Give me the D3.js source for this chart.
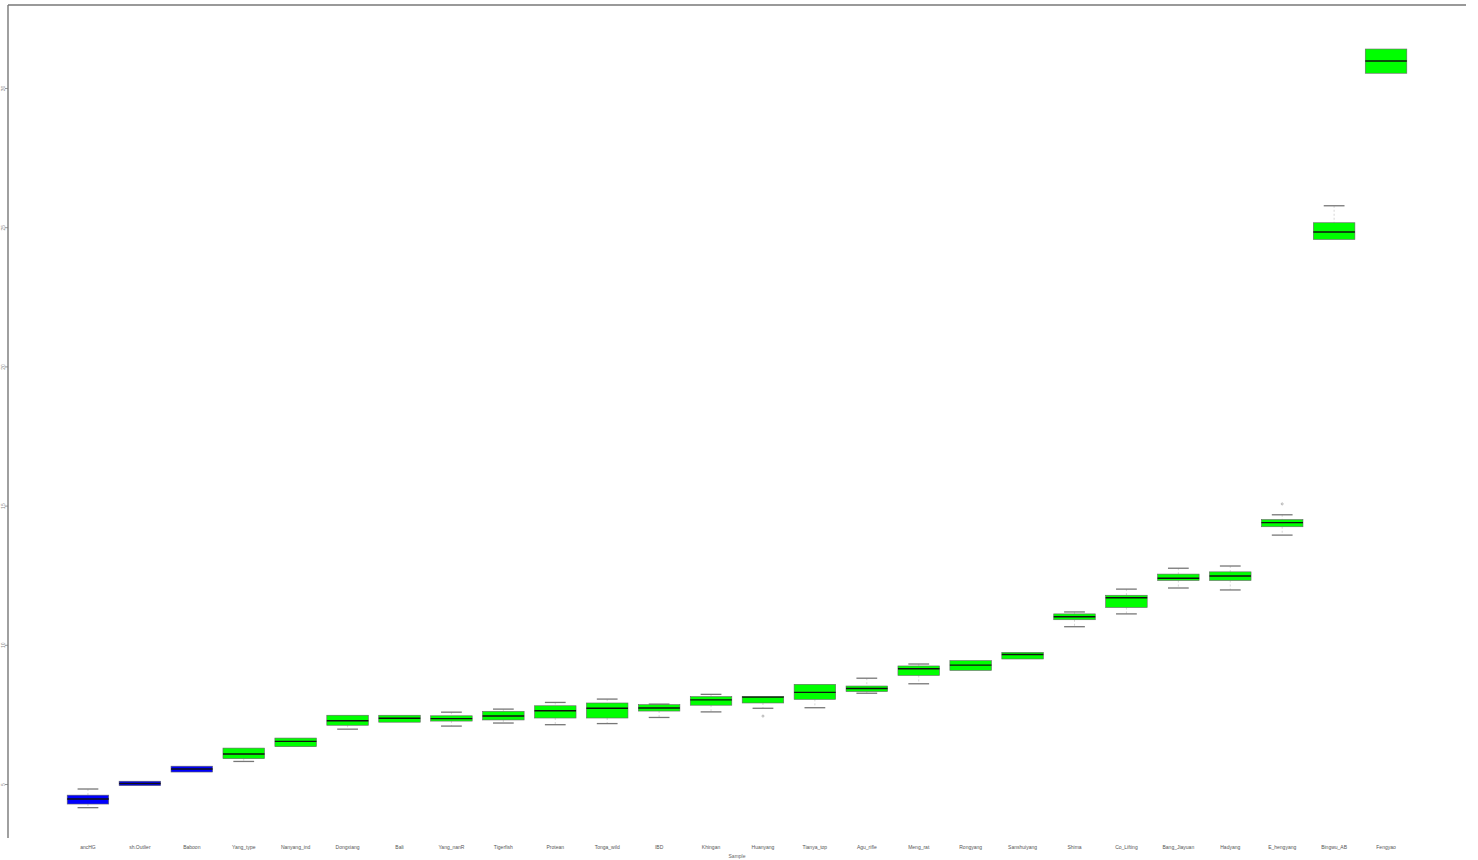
<!DOCTYPE html>
<html>
<head>
<meta charset="utf-8">
<script src="https://cdn.jsdelivr.net/npm/d3@7"></script>
<style>
  html, body { margin: 0; padding: 0; background: #fff; }
  svg { display: block; }
  text { font-family: "Liberation Sans", Arial, sans-serif; fill: #444; }
</style>
</head>
<body>
<svg id="chart" width="1478" height="860"></svg>
<script>
// Group names, in plotting order
const groups = [
  "ancHG", "sh.Outlier", "Baboon", "Yang_type", "Nanyang_ind", "Dongxiang",
  "Bali", "Yang_nanR", "Tigerfish", "Protean", "Tonga_wild", "IBD",
  "Khingan", "Huanyang", "Tianya_top", "Agu_rifle", "Meng_rat", "Rongyang",
  "Sanshuiyang", "Shima", "Co_Lifting", "Bang_Jiayuan", "Hadyang",
  "E_hengyang", "Bingwu_AB", "Fengyao"
];
// Five-number summaries per group
const lowerWhisker = [4.15, 4.94, 5.43, 5.81, 6.34, 6.97, 7.22, 7.08, 7.19, 7.13, 7.17, 7.39,
  7.59, 7.72, 7.74, 8.26, 8.60, 9.08, 9.49, 10.65, 11.11, 12.04, 11.97, 13.94, 24.56, 30.53];
const q1 = [4.28, 4.94, 5.43, 5.91, 6.34, 7.11, 7.22, 7.26, 7.30, 7.37, 7.37, 7.62,
  7.83, 7.91, 8.04, 8.32, 8.90, 9.08, 9.49, 10.90, 11.34, 12.31, 12.31, 14.24, 24.56, 30.53];
const median = [4.46, 5.02, 5.54, 6.08, 6.53, 7.27, 7.36, 7.35, 7.44, 7.63, 7.72, 7.73,
  8.02, 8.12, 8.29, 8.43, 9.14, 9.27, 9.65, 11.01, 11.69, 12.39, 12.47, 14.39, 24.83, 30.97];
const q3 = [4.60, 5.10, 5.64, 6.29, 6.65, 7.47, 7.47, 7.45, 7.61, 7.81, 7.91, 7.85,
  8.14, 8.14, 8.58, 8.52, 9.24, 9.43, 9.73, 11.11, 11.78, 12.54, 12.62, 14.50, 25.16, 31.40];
const upperWhisker = [4.82, 5.10, 5.64, 6.29, 6.65, 7.47, 7.47, 7.58, 7.69, 7.93, 8.05, 7.87,
  8.22, 8.14, 8.58, 8.80, 9.31, 9.43, 9.73, 11.18, 12.00, 12.75, 12.83, 14.67, 25.77, 31.40];
// Outlying points: [group index, value]
const outliers = [[13, 7.44], [23, 15.06]];
// Groups drawn in blue; the rest are green
const blueGroups = ["ancHG", "sh.Outlier", "Baboon"];
const yTicks = [5, 10, 15, 20, 25, 30];
const xTitle = "Sample";

const svg = d3.select("#chart");
const n = groups.length;

// Positions 1..n with a 4% margin on each side of [0.5, n + 0.5]
const ext = 0.04 * n;
const x = d3.scaleLinear().domain([0.5 - ext, n + 0.5 + ext]).range([8, 1466]);
const y = d3.scaleLinear().domain([5, 30]).range([784, 88]);
const step = x(2) - x(1);
const boxW = step * 0.8;
const stapleW = boxW * 0.5;

// Frame: top and left edges
svg.append("line").attr("x1", 8).attr("x2", 1466).attr("y1", 5).attr("y2", 5)
  .attr("stroke", "#777").attr("stroke-width", 1.4);

const yAxis = d3.axisLeft(y).tickValues(yTicks).tickSize(3).tickFormat(d3.format("d"));
const gy = svg.append("g").attr("transform", "translate(8,0)").call(yAxis);
gy.select(".domain").remove();
gy.selectAll(".tick line").attr("stroke", "#999");
gy.selectAll(".tick text")
  .attr("x", 0).attr("dy", 0)
  .attr("transform", "translate(-4,0) rotate(-90)")
  .attr("text-anchor", "middle")
  .attr("dominant-baseline", "middle")
  .style("font-size", "5px").style("fill", "#888");
svg.append("line").attr("x1", 8).attr("x2", 8).attr("y1", 5).attr("y2", 838)
  .attr("stroke", "#777").attr("stroke-width", 1.4);

const stats = groups.map((g, i) => ({
  name: g, i: i + 1,
  lo: lowerWhisker[i], q1: q1[i], med: median[i], q3: q3[i], hi: upperWhisker[i],
  fill: blueGroups.includes(g) ? "#0000ff" : "#00ff00"
}));

const gb = svg.append("g").selectAll("g").data(stats).join("g");

// Whiskers (dashed) and staples
gb.filter(d => d.hi > d.q3).append("line")
  .attr("x1", d => x(d.i)).attr("x2", d => x(d.i))
  .attr("y1", d => y(d.hi)).attr("y2", d => y(d.q3))
  .attr("stroke", "#bbb").attr("stroke-width", 0.6).attr("stroke-dasharray", "2,2");
gb.filter(d => d.lo < d.q1).append("line")
  .attr("x1", d => x(d.i)).attr("x2", d => x(d.i))
  .attr("y1", d => y(d.q1)).attr("y2", d => y(d.lo))
  .attr("stroke", "#bbb").attr("stroke-width", 0.6).attr("stroke-dasharray", "2,2");
gb.filter(d => d.hi > d.q3).append("line")
  .attr("x1", d => x(d.i) - stapleW / 2).attr("x2", d => x(d.i) + stapleW / 2)
  .attr("y1", d => y(d.hi)).attr("y2", d => y(d.hi))
  .attr("stroke", "#777").attr("stroke-width", 1.3);
gb.filter(d => d.lo < d.q1).append("line")
  .attr("x1", d => x(d.i) - stapleW / 2).attr("x2", d => x(d.i) + stapleW / 2)
  .attr("y1", d => y(d.lo)).attr("y2", d => y(d.lo))
  .attr("stroke", "#777").attr("stroke-width", 1.3);

// Boxes
gb.append("rect")
  .attr("x", d => x(d.i) - boxW / 2).attr("width", boxW)
  .attr("y", d => y(d.q3)).attr("height", d => Math.max(1, y(d.q1) - y(d.q3)))
  .attr("fill", d => d.fill).attr("stroke", "#666").attr("stroke-width", 0.6);

// Medians
gb.append("line")
  .attr("x1", d => x(d.i) - boxW / 2).attr("x2", d => x(d.i) + boxW / 2)
  .attr("y1", d => y(d.med)).attr("y2", d => y(d.med))
  .attr("stroke", "#111").attr("stroke-width", 1.4);

// Outlying points
svg.append("g").selectAll("circle").data(outliers).join("circle")
  .attr("cx", d => x(d[0] + 1)).attr("cy", d => y(d[1])).attr("r", 1)
  .attr("fill", "none").attr("stroke", "#888").attr("stroke-width", 0.6);

// Group labels
svg.append("g").selectAll("text").data(stats).join("text")
  .attr("x", d => x(d.i)).attr("y", 849)
  .attr("text-anchor", "middle")
  .style("font-size", "5px").style("fill", "#555")
  .text(d => d.name);

svg.append("text").attr("x", x((n + 1) / 2)).attr("y", 858)
  .attr("text-anchor", "middle").style("font-size", "5px").style("fill", "#666")
  .text(xTitle);
</script>
</body>
</html>
